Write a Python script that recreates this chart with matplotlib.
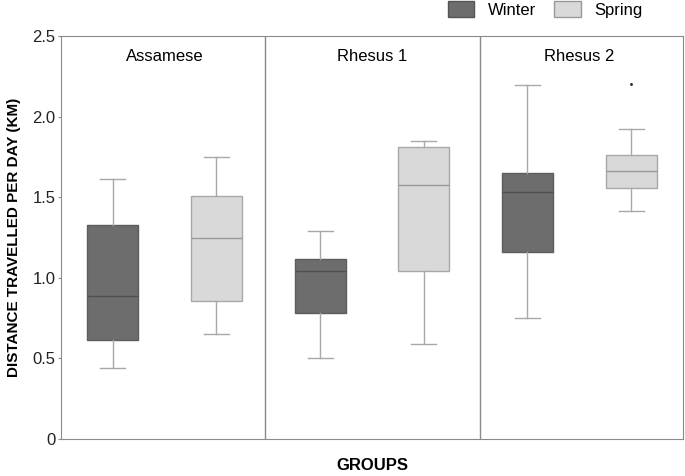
import matplotlib
matplotlib.use("Agg")
import matplotlib.pyplot as plt
from matplotlib.patches import Patch

plt.rcParams['font.family'] = ['Liberation Sans', 'DejaVu Sans']

groups = ["Assamese", "Rhesus 1", "Rhesus 2"]
seasons = ["Winter", "Spring"]

# whisker low, q1, median, q3, whisker high
winter_low = [0.44, 0.50, 0.75]
winter_q1 = [0.615, 0.78, 1.16]
winter_med = [0.885, 1.045, 1.53]
winter_q3 = [1.325, 1.115, 1.65]
winter_high = [1.615, 1.29, 2.195]

spring_low = [0.65, 0.59, 1.415]
spring_q1 = [0.855, 1.04, 1.555]
spring_med = [1.25, 1.575, 1.66]
spring_q3 = [1.51, 1.81, 1.76]
spring_high = [1.75, 1.85, 1.925]

spring_outliers = [[], [], [2.205]]

winter_col = "#6d6d6d"
spring_col = "#d9d9d9"

fig = plt.figure(figsize=(6.85, 4.76), dpi=100)
ax = fig.add_axes([0.089, 0.078, 0.908, 0.846])

def stats(low, q1, med, q3, high, fl):
    out = []
    for i in range(len(low)):
        out.append(dict(whislo=low[i], q1=q1[i], med=med[i], q3=q3[i],
                        whishi=high[i], fliers=fl[i]))
    return out

pos_w = [i + 0.25 for i in range(3)]
pos_s = [i + 0.75 for i in range(3)]

ax.bxp(stats(winter_low, winter_q1, winter_med, winter_q3, winter_high, [[], [], []]),
       positions=pos_w, widths=0.245, patch_artist=True,
       boxprops=dict(facecolor=winter_col, edgecolor="#5c5c5c", linewidth=1),
       medianprops=dict(color="#505050", linewidth=1),
       whiskerprops=dict(color="#a8a8a8", linewidth=1),
       capprops=dict(color="#a8a8a8", linewidth=1), capwidths=0.12)
ax.bxp(stats(spring_low, spring_q1, spring_med, spring_q3, spring_high, spring_outliers),
       positions=pos_s, widths=0.245, patch_artist=True,
       boxprops=dict(facecolor=spring_col, edgecolor="#a8a8a8", linewidth=1),
       medianprops=dict(color="#9a9a9a", linewidth=1),
       whiskerprops=dict(color="#a8a8a8", linewidth=1),
       capprops=dict(color="#a8a8a8", linewidth=1), capwidths=0.12,
       flierprops=dict(marker='o', markersize=1.1, markerfacecolor='#333333',
                       markeredgecolor='#333333'))

for xd in [0.985, 2.02]:
    ax.axvline(xd, color="#8a8a8a", linewidth=1)

for i, g in enumerate(groups):
    ax.text(i + 0.5, 2.42, g, ha='center', va='top', fontsize=12)

ax.set_xlim(0, 3)
ax.set_ylim(0, 2.5)
ax.set_yticks([0, 0.5, 1.0, 1.5, 2.0, 2.5])
ax.set_yticklabels(["0", "0.5", "1.0", "1.5", "2.0", "2.5"], fontsize=12, color="#222222")
ax.set_xticks([])
ax.tick_params(axis='y', length=2, color="#8a8a8a", pad=2)
for s in ax.spines.values():
    s.set_color("#8a8a8a")

ax.set_xlabel("GROUPS", fontsize=12, fontweight='bold', labelpad=14)
ax.set_ylabel("DISTANCE TRAVELLED PER DAY (KM)", fontsize=11, fontweight='bold', labelpad=8)

handles = [Patch(facecolor=winter_col, edgecolor="#555555", label=seasons[0]),
           Patch(facecolor=spring_col, edgecolor="#999999", label=seasons[1])]
fig.legend(handles=handles, loc='upper right', bbox_to_anchor=(0.96, 1.03), ncol=2,
           frameon=False, fontsize=12, handlelength=1.6, handleheight=1.15,
           columnspacing=1.1, handletextpad=0.8)

fig.savefig("out.png", dpi=100)
